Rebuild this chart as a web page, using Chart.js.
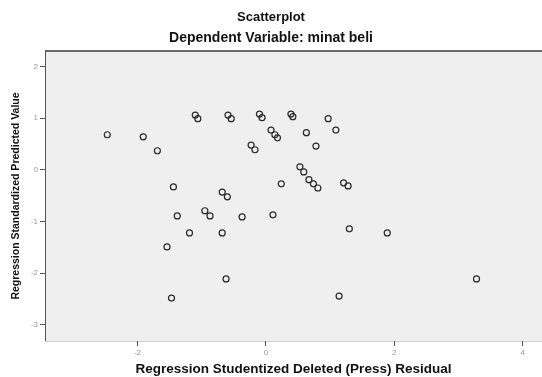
<!DOCTYPE html>
<html>
<head>
<meta charset="utf-8">
<script src="https://cdn.jsdelivr.net/npm/chart.js@4/dist/chart.umd.min.js"></script>
<style>
    html, body { margin: 0; padding: 0; background: #ffffff; }
    #wrap { width: 542px; height: 377px; }
</style>
</head>
<body>
<div id="wrap"><canvas id="chart-scatter"></canvas></div>
<script>
// Residual (x) vs predicted (y)
const RESIDUAL = [
    -2.47, -1.91, -1.69, -1.44, -1.10, -1.06, -0.59, -0.54, -0.68, -0.60,
    -1.38, -0.95, -0.87, -0.10, -0.06, 0.39, 0.42, 0.08, 0.14, 0.18,
    0.97, 1.09, 0.63, 0.78, -0.23, -0.17, 0.53, 0.59, 0.67, 0.74,
    0.81, 0.24, 1.21, 1.28, 0.11, -0.37, -1.19, -0.68, -1.54, -0.62,
    -1.47, 1.30, 1.89, 3.28, 1.14,
];
const PREDICTED = [
    0.68, 0.64, 0.37, -0.33, 1.06, 0.99, 1.06, 0.99, -0.43, -0.52,
    -0.89, -0.79, -0.89, 1.08, 1.01, 1.08, 1.03, 0.77, 0.68, 0.62,
    0.99, 0.77, 0.72, 0.46, 0.48, 0.39, 0.06, -0.04, -0.19, -0.27,
    -0.35, -0.27, -0.25, -0.31, -0.87, -0.91, -1.22, -1.22, -1.49, -2.11,
    -2.48, -1.14, -1.22, -2.11, -2.44,
];
const X_TICKS = [-2, 0, 2, 4];
const Y_TICKS = [-3, -2, -1, 0, 1, 2];

const FONT = '"Liberation Sans", Arial, sans-serif';

// light grey plot panel with a dark frame on top/left
const panelPlugin = {
    id: 'panel',
    beforeDraw(chart) {
        const { ctx, chartArea: a } = chart;
        ctx.save();
        ctx.fillStyle = '#efefef';
        ctx.fillRect(a.left, a.top, a.right - a.left, a.bottom - a.top);
        ctx.strokeStyle = '#cfcfcf';
        ctx.lineWidth = 1;
        ctx.beginPath();
        ctx.moveTo(a.left, a.bottom + 0.5);
        ctx.lineTo(a.right, a.bottom + 0.5);
        ctx.stroke();
        ctx.strokeStyle = '#6a6a6a';
        ctx.lineWidth = 2;
        ctx.beginPath();
        ctx.moveTo(a.left, a.top);
        ctx.lineTo(a.right, a.top);
        ctx.stroke();
        ctx.strokeStyle = '#555555';
        ctx.lineWidth = 1;
        ctx.beginPath();
        ctx.moveTo(a.left + 0.5, a.top);
        ctx.lineTo(a.left + 0.5, a.bottom);
        ctx.stroke();
        ctx.restore();
    },
};

function renderScatter() {
    const canvas = document.getElementById('chart-scatter');
    const points = RESIDUAL.map((x, i) => ({ x: x, y: PREDICTED[i] }));

    new Chart(canvas, {
        type: 'scatter',
        data: {
            datasets: [{
                data: points,
                pointStyle: 'circle',
                pointRadius: 3,
                pointBorderWidth: 1.2,
                pointBorderColor: '#2a2a2a',
                pointBackgroundColor: 'rgba(0,0,0,0)',
            }],
        },
        plugins: [panelPlugin],
        options: {
            responsive: true,
            maintainAspectRatio: false,
            animation: false,
            layout: { autoPadding: false, padding: 0 },
            plugins: {
                legend: { display: false },
                tooltip: { enabled: false },
                title: {
                    display: true,
                    text: 'Scatterplot',
                    color: '#111',
                    font: { family: FONT, size: 13, weight: 'bold' },
                    padding: { top: 10, bottom: 0 },
                },
                subtitle: {
                    display: true,
                    text: 'Dependent Variable: minat beli',
                    color: '#111',
                    font: { family: FONT, size: 14, weight: 'bold' },
                    padding: { top: 4, bottom: 4.6 },
                },
            },
            scales: {
                x: {
                    type: 'linear',
                    min: -3.44,
                    max: 4.30,
                    afterBuildTicks: s => { s.ticks = X_TICKS.map(v => ({ value: v })); },
                    afterFit: s => { s.height = 36; },
                    border: { display: false },
                    grid: { drawOnChartArea: false, drawTicks: true, tickLength: 5, color: '#555' },
                    ticks: { color: '#999', padding: 2, font: { family: FONT, size: 8 } },
                    title: {
                        display: true,
                        text: 'Regression Studentized Deleted (Press) Residual',
                        color: '#111',
                        font: { family: FONT, size: 13.5, weight: 'bold' },
                        padding: { top: 0, bottom: 0 },
                    },
                },
                y: {
                    type: 'linear',
                    min: -3.31,
                    max: 2.30,
                    afterBuildTicks: s => { s.ticks = Y_TICKS.map(v => ({ value: v })); },
                    afterFit: s => { s.width = 45; },
                    border: { display: false },
                    grid: { drawOnChartArea: false, drawTicks: true, tickLength: 5, color: '#555' },
                    ticks: { color: '#999', padding: 2, font: { family: FONT, size: 8 } },
                    title: {
                        display: true,
                        text: 'Regression Standardized Predicted Value',
                        color: '#111',
                        font: { family: FONT, size: 10.5, weight: 'bold' },
                        padding: { top: 10, bottom: 10 },
                    },
                },
            },
        },
    });
}

renderScatter();
</script>
</body>
</html>
